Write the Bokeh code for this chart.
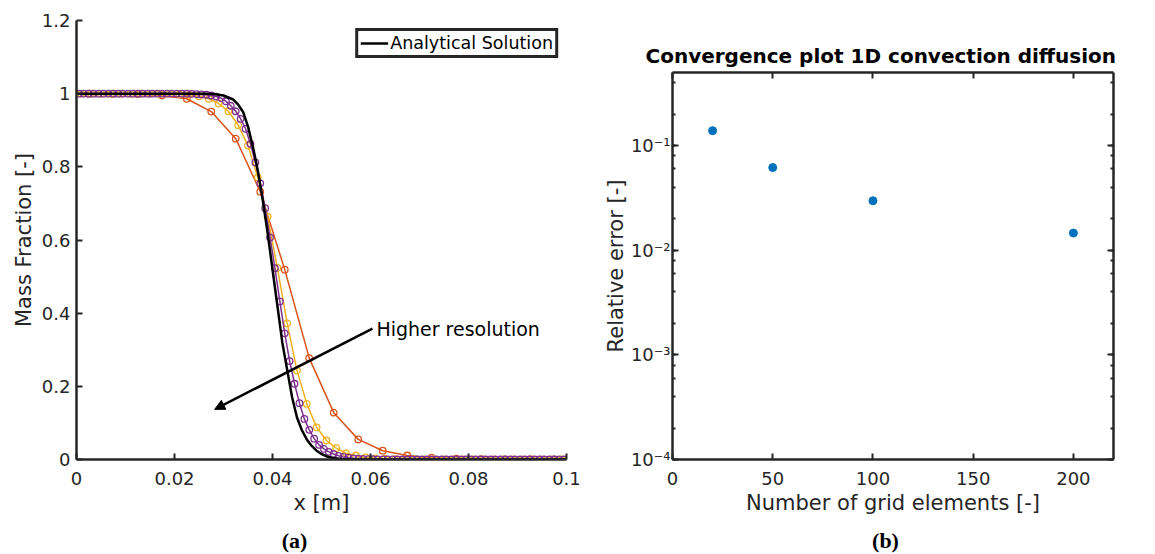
from bokeh.plotting import figure
from bokeh.layouts import row, column
from bokeh.models import (Range1d, FixedTicker, CustomJSTickFormatter, LinearAxis, LogAxis,
                          LogTicker, Label, Arrow, NormalHead)
from bokeh.embed import file_html
from bokeh.resources import INLINE

# ---------------- data: panel (a) ----------------
x_n20 = [0.0025, 0.0075, 0.0125, 0.0175, 0.0225, 0.0275, 0.0325, 0.0375, 0.0425, 0.0475,
         0.0525, 0.0575, 0.0625, 0.0675, 0.0725, 0.0775, 0.0825, 0.0875, 0.0925, 0.0975]
y_n20 = [1.0, 1.0, 0.999, 0.995, 0.986, 0.951, 0.877, 0.732, 0.519, 0.277,
         0.128, 0.055, 0.024, 0.011, 0.005, 0.002, 0.001, 0.0005, 0.0002, 0.0001]

x_n50 = [0.001, 0.003, 0.005, 0.007, 0.009, 0.011, 0.013, 0.015, 0.017, 0.019,
         0.021, 0.023, 0.025, 0.027, 0.029, 0.031, 0.033, 0.035, 0.037, 0.039,
         0.041, 0.043, 0.045, 0.047, 0.049, 0.051, 0.053, 0.055, 0.057, 0.059,
         0.061, 0.063, 0.065, 0.067, 0.069, 0.071, 0.073, 0.075, 0.077, 0.079,
         0.081, 0.083, 0.085, 0.087, 0.089, 0.091, 0.093, 0.095, 0.097, 0.099]
y_n50 = [1.0, 1.0, 1.0, 1.0, 1.0, 1.0, 1.0, 1.0, 1.0, 1.0,
         0.999, 0.997, 0.993, 0.986, 0.973, 0.952, 0.914, 0.858, 0.771, 0.664,
         0.524, 0.372, 0.243, 0.152, 0.088, 0.052, 0.031, 0.017, 0.011, 0.006,
         0.003, 0.002, 0.001, 0.0005, 0.0002, 0.0, 0.0, 0.0, 0.0, 0.0,
         0.0, 0.0, 0.0, 0.0, 0.0, 0.0, 0.0, 0.0, 0.0, 0.0]

x_n100 = [0.0005, 0.0015, 0.0025, 0.0035, 0.0045, 0.0055, 0.0065, 0.0075, 0.0085, 0.0095,
          0.0105, 0.0115, 0.0125, 0.0135, 0.0145, 0.0155, 0.0165, 0.0175, 0.0185, 0.0195,
          0.0205, 0.0215, 0.0225, 0.0235, 0.0245, 0.0255, 0.0265, 0.0275, 0.0285, 0.0295,
          0.0305, 0.0315, 0.0325, 0.0335, 0.0345, 0.0355, 0.0365, 0.0375, 0.0385, 0.0395,
          0.0405, 0.0415, 0.0425, 0.0435, 0.0445, 0.0455, 0.0465, 0.0475, 0.0485, 0.0495,
          0.0505, 0.0515, 0.0525, 0.0535, 0.0545, 0.0555, 0.0565, 0.0575, 0.0585, 0.0595,
          0.0605, 0.0615, 0.0625, 0.0635, 0.0645, 0.0655, 0.0665, 0.0675, 0.0685, 0.0695,
          0.0705, 0.0715, 0.0725, 0.0735, 0.0745, 0.0755, 0.0765, 0.0775, 0.0785, 0.0795,
          0.0805, 0.0815, 0.0825, 0.0835, 0.0845, 0.0855, 0.0865, 0.0875, 0.0885, 0.0895,
          0.0905, 0.0915, 0.0925, 0.0935, 0.0945, 0.0955, 0.0965, 0.0975, 0.0985, 0.0995]
y_n100 = [1.0, 1.0, 1.0, 1.0, 1.0, 1.0, 1.0, 1.0, 1.0, 1.0,
          1.0, 1.0, 1.0, 1.0, 1.0, 1.0, 1.0, 1.0, 1.0, 1.0,
          1.0, 1.0, 1.0, 0.9995, 0.999, 0.998, 0.997, 0.995, 0.992, 0.988,
          0.979, 0.967, 0.952, 0.931, 0.904, 0.863, 0.812, 0.755, 0.687, 0.607,
          0.523, 0.432, 0.345, 0.269, 0.207, 0.154, 0.111, 0.081, 0.057, 0.040,
          0.029, 0.021, 0.015, 0.010, 0.007, 0.005, 0.003, 0.002, 0.0015, 0.001,
          0.0007, 0.0005, 0.0003, 0.0002, 0.0001, 0.0, 0.0, 0.0, 0.0, 0.0,
          0.0, 0.0, 0.0, 0.0, 0.0, 0.0, 0.0, 0.0, 0.0, 0.0,
          0.0, 0.0, 0.0, 0.0, 0.0, 0.0, 0.0, 0.0, 0.0, 0.0,
          0.0, 0.0, 0.0, 0.0, 0.0, 0.0, 0.0, 0.0, 0.0, 0.0]

x_exact = [0.0, 0.02, 0.026, 0.028, 0.030, 0.032, 0.033, 0.034, 0.035, 0.036,
           0.037, 0.038, 0.039, 0.040, 0.041, 0.042, 0.043, 0.044, 0.045, 0.046,
           0.047, 0.048, 0.049, 0.050, 0.051, 0.052, 0.054, 0.056, 0.06, 0.1]
y_exact = [1.0, 1.0, 0.9995, 0.999, 0.995, 0.984, 0.970, 0.950, 0.91, 0.855,
           0.79, 0.71, 0.62, 0.52, 0.42, 0.32, 0.245, 0.17, 0.115, 0.08,
           0.055, 0.037, 0.024, 0.015, 0.009, 0.005, 0.0015, 0.0003, 0.0, 0.0]

x_ticks_a = [0.0, 0.02, 0.04, 0.06, 0.08, 0.1]
x_labels_a = ["0", "0.02", "0.04", "0.06", "0.08", "0.1"]
y_ticks_a = [0.0, 0.2, 0.4, 0.6, 0.8, 1.0, 1.2]
y_labels_a = ["0", "0.2", "0.4", "0.6", "0.8", "1", "1.2"]

# ---------------- data: panel (b) ----------------
n_elements = [20, 50, 100, 200]
rel_error = [0.139, 0.0617, 0.0297, 0.0146]

x_ticks_b = [0, 50, 100, 150, 200]
x_labels_b = ["0", "50", "100", "150", "200"]
y_ticks_b = [1e-4, 1e-3, 1e-2, 1e-1]
y_labels_b = ["10\u207b\u2074", "10\u207b\u00b3", "10\u207b\u00b2", "10\u207b\u00b9"]

# annotations
arrow_start = (0.0604, 0.358)
arrow_end = (0.0282, 0.137)
arrow_text = "Higher resolution"
captions = ["(a)", "(b)"]
caption_x = [294, 885]      # pixel positions across the caption strip

AX = "#262626"
FONT = "DejaVu Sans"
PLOT_H = 524
CAP_H = 30

LOOKUP_LIN = """
for (let i = 0; i < vals.length; i++) { if (Math.abs(vals[i] - tick) < 1e-9) return labels[i]; }
return '';
"""
LOOKUP_LOG = """
for (let i = 0; i < vals.length; i++) { if (Math.abs(Math.log10(vals[i]) - Math.log10(tick)) < 1e-6) return labels[i]; }
return '';
"""


def style_axis(ax, minor=False):
    ax.axis_line_width = 2.5
    ax.axis_line_color = AX
    ax.major_tick_line_width = 2
    ax.major_tick_line_color = AX
    ax.major_tick_in = 6
    ax.major_tick_out = 0
    if minor:
        ax.minor_tick_line_color = AX
        ax.minor_tick_line_width = 2
        ax.minor_tick_in = 3
        ax.minor_tick_out = 0
    else:
        ax.minor_tick_line_color = None
    ax.major_label_text_font = FONT
    ax.major_label_text_font_size = "18px"
    ax.major_label_text_color = AX
    ax.axis_label_text_font = FONT
    ax.axis_label_text_font_size = "21px"
    ax.axis_label_text_font_style = "normal"
    ax.axis_label_text_color = AX


# ---------------- panel (a) ----------------
p1 = figure(width=600, height=PLOT_H, x_range=Range1d(0, 0.1), y_range=Range1d(0, 1.2),
            output_backend="svg", toolbar_location=None,
            min_border_left=76, min_border_right=34, min_border_top=20, min_border_bottom=65)
p1.frame_align = False
p1.title.visible = False
p1.grid.visible = False
p1.outline_line_color = None

p1.xaxis.ticker = FixedTicker(ticks=x_ticks_a)
p1.xaxis.formatter = CustomJSTickFormatter(args=dict(vals=x_ticks_a, labels=x_labels_a), code=LOOKUP_LIN)
p1.yaxis.ticker = FixedTicker(ticks=y_ticks_a)
p1.yaxis.formatter = CustomJSTickFormatter(args=dict(vals=y_ticks_a, labels=y_labels_a), code=LOOKUP_LIN)
p1.xaxis.axis_label = "x [m]"
p1.yaxis.axis_label = "Mass Fraction [-]"
for ax in p1.xaxis + p1.yaxis:
    style_axis(ax)
p1.xaxis.major_label_standoff = 12
p1.xaxis.axis_label_standoff = 3
p1.yaxis.major_label_standoff = 6
p1.yaxis.axis_label_standoff = 3

series = [(x_n20, y_n20, "#D95319"), (x_n50, y_n50, "#EDB120"), (x_n100, y_n100, "#7E2F8E")]
for xs, ys, c in series:
    p1.line(xs, ys, line_color=c, line_width=1.5)
    p1.scatter(xs, ys, size=6.5, marker="circle", fill_color=None, line_color=c, line_width=1.3)

p1.line(x_exact, y_exact, line_color="black", line_width=2.5, legend_label="Analytical Solution")

p1.add_layout(Arrow(end=NormalHead(size=10, fill_color="black", line_color="black"),
                    x_start=arrow_start[0], y_start=arrow_start[1],
                    x_end=arrow_end[0], y_end=arrow_end[1],
                    line_color="black", line_width=2.5))
p1.add_layout(Label(x=arrow_start[0] + 0.0008, y=arrow_start[1], text=arrow_text,
                    text_font=FONT, text_font_size="19px", text_color="black",
                    text_baseline="middle", text_align="left"))

lg = p1.legend[0]
lg.location = "top_right"
lg.margin = 8
lg.padding = 2
lg.spacing = 0
lg.label_standoff = 2
lg.glyph_width = 28
lg.glyph_height = 16
lg.label_height = 16
lg.label_text_font = FONT
lg.label_text_font_size = "17.5px"
lg.label_text_color = "black"
lg.border_line_color = AX
lg.border_line_alpha = 1.0
lg.border_line_width = 3
lg.background_fill_alpha = 1.0

# ---------------- panel (b) ----------------
p2 = figure(width=555, height=PLOT_H, x_range=Range1d(0, 220), y_range=Range1d(1e-4, 0.5),
            y_axis_type="log", output_backend="svg", toolbar_location=None,
            min_border_left=72, min_border_right=42, min_border_top=72, min_border_bottom=65)
p2.frame_align = False
p2.grid.visible = False
p2.outline_line_color = None
p2.title.text = "Convergence plot 1D convection diffusion"
p2.title.align = "left"
p2.title.offset = -27
p2.title.text_font = FONT
p2.title.text_font_size = "20px"
p2.title.text_font_style = "bold"
p2.title.text_color = "black"

p2.xaxis.ticker = FixedTicker(ticks=x_ticks_b)
p2.xaxis.formatter = CustomJSTickFormatter(args=dict(vals=x_ticks_b, labels=x_labels_b), code=LOOKUP_LIN)
p2.yaxis.ticker = LogTicker()
p2.yaxis.formatter = CustomJSTickFormatter(args=dict(vals=y_ticks_b, labels=y_labels_b), code=LOOKUP_LOG)
p2.xaxis.axis_label = "Number of grid elements [-]"
p2.yaxis.axis_label = "Relative error [-]"
for ax in p2.xaxis:
    style_axis(ax)
for ax in p2.yaxis:
    style_axis(ax, minor=True)
p2.xaxis.major_label_standoff = 12
p2.xaxis.axis_label_standoff = 3
p2.yaxis.major_label_standoff = 2
p2.yaxis.axis_label_standoff = 0

top_ax = LinearAxis(ticker=FixedTicker(ticks=x_ticks_b), formatter=CustomJSTickFormatter(code="return '';"))
style_axis(top_ax)
top_ax.major_label_standoff = 0
right_ax = LogAxis(ticker=LogTicker(), formatter=CustomJSTickFormatter(code="return '';"))
style_axis(right_ax, minor=True)
right_ax.major_label_standoff = 0
p2.add_layout(top_ax, "above")
p2.add_layout(right_ax, "right")

p2.scatter(n_elements, rel_error, size=8, marker="circle", fill_color="#0072BD", line_color="#0072BD")

# ---------------- caption strip ----------------
pc = figure(width=1155, height=CAP_H, x_range=Range1d(0, 1155), y_range=Range1d(0, CAP_H),
            output_backend="svg", toolbar_location=None, min_border=0)
pc.frame_align = False
pc.title.visible = False
pc.axis.visible = False
pc.grid.visible = False
pc.outline_line_color = None
for txt, cx in zip(captions, caption_x):
    pc.add_layout(Label(x=cx, y=14, text=txt, text_font="Liberation Serif", text_font_size="22px",
                        text_font_style="bold", text_color="black",
                        text_align="center", text_baseline="middle"))

layout = column(row(p1, p2), pc)
open("out.html", "w").write(file_html(layout, INLINE))
